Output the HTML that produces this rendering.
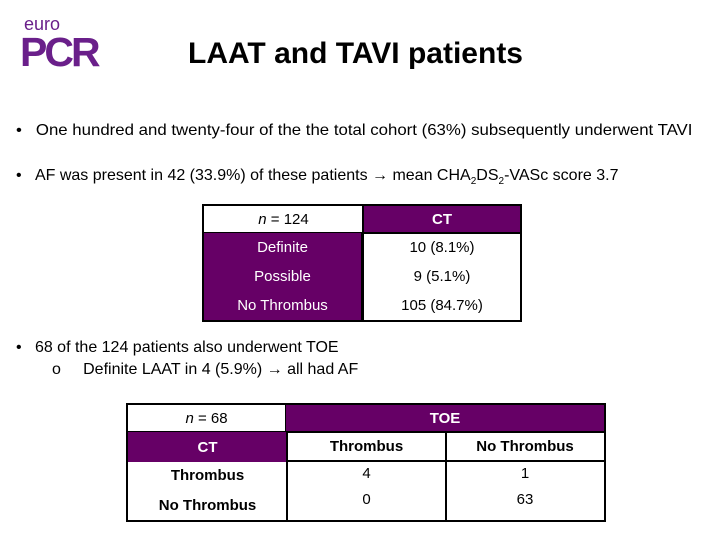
<!DOCTYPE html>
<html><head><meta charset="utf-8"><style>
body{margin:0;width:720px;height:540px;background:#fff;position:relative;overflow:hidden;font-family:"Liberation Sans",sans-serif;color:#000}
.a{position:absolute;white-space:nowrap}
.t{font-size:16px;transform-origin:0 50%}
.cell{position:absolute;box-sizing:border-box;display:flex;align-items:center;justify-content:center;font-size:15px;white-space:nowrap}
.p{background:#660066;color:#fff}
.b{font-weight:bold}
sub{font-size:10px}
</style></head><body>
<div class="a" style="left:20px;top:16px;color:#6a1f8a">
 <div style="font-size:18px;margin-left:4px;line-height:17px">euro</div>
 <div style="font-size:41px;font-weight:bold;line-height:38px;letter-spacing:-3px">PCR</div>
</div>
<div class="a" style="left:188px;top:37px;font-size:30px;font-weight:bold">LAAT and TAVI patients</div>

<div class="a t" style="left:16px;top:122px;transform:scaleX(1.05)">•&nbsp;&nbsp;&nbsp;One hundred and twenty-four of the the total cohort (63%) subsequently underwent TAVI</div>
<div class="a t" style="left:16px;top:167px">•&nbsp;&nbsp;&nbsp;AF was present in 42 (33.9%) of these patients → mean CHA<sub>2</sub>DS<sub>2</sub>-VASc score 3.7</div>

<div>
<div class="cell" style="left:202px;top:204px;width:161px;height:30px;border:2px solid #000;border-right:none"><i>n</i>&nbsp;= 124</div>
<div class="cell p b" style="left:362px;top:204px;width:160px;height:30px;border:2px solid #000">CT</div>
<div class="cell p" style="left:202px;top:233px;width:161px;height:89px;border:2px solid #000;border-top:none;flex-direction:column;justify-content:space-around"><span>Definite</span><span>Possible</span><span>No Thrombus</span></div>
<div class="cell" style="left:362px;top:233px;width:160px;height:89px;border:2px solid #000;border-top:none;flex-direction:column;justify-content:space-around"><span>10 (8.1%)</span><span>9 (5.1%)</span><span>105 (84.7%)</span></div>
</div>

<div class="a t" style="left:16px;top:339px">•&nbsp;&nbsp;&nbsp;68 of the 124 patients also underwent TOE</div>
<div class="a t" style="left:52px;top:361px">o&nbsp;&nbsp;&nbsp;&nbsp;&nbsp;Definite LAAT in 4 (5.9%) → all had AF</div>

<div>
<div class="cell" style="left:126px;top:403px;width:161px;height:30px;border:2px solid #000"><i>n</i>&nbsp;= 68</div>
<div class="cell p b" style="left:286px;top:403px;width:320px;height:30px;border:2px solid #000;border-left:none">TOE</div>
<div class="cell p b" style="left:126px;top:432px;width:161px;height:30px;border-left:2px solid #000">CT</div>
<div class="cell b" style="left:286px;top:432px;width:161px;height:30px;border:2px solid #000;border-top:none">Thrombus</div>
<div class="cell b" style="left:446px;top:432px;width:160px;height:30px;border:2px solid #000;border-top:none;border-left:none">No Thrombus</div>
<div class="cell b" style="left:126px;top:461px;width:161px;height:61px;border:2px solid #000;border-top:none;border-right:none;flex-direction:column;justify-content:space-around"><span>Thrombus</span><span>No Thrombus</span></div>
<div class="cell" style="left:286px;top:461px;width:161px;height:61px;border:2px solid #000;border-top:none;flex-direction:column;justify-content:space-around;padding-bottom:8px"><span>4</span><span>0</span></div>
<div class="cell" style="left:446px;top:461px;width:160px;height:61px;border:2px solid #000;border-top:none;border-left:none;flex-direction:column;justify-content:space-around;padding-bottom:8px"><span>1</span><span>63</span></div>
</div>
</body></html>
